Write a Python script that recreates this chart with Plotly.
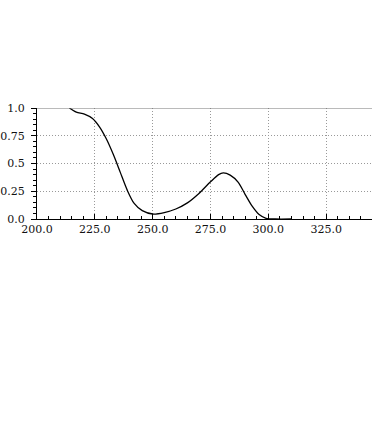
import plotly.graph_objects as go

wavelength = [214.0, 217.0, 220.5, 224.0, 227.0, 230.0, 233.0, 236.0, 239.0, 242.0,
              245.5, 250.0, 255.0, 260.0, 265.0, 270.0, 275.0, 278.5, 280.5, 283.5,
              287.0, 290.0, 293.0, 296.0, 299.0, 303.0, 310.0]
absorbance = [1.0, 0.962, 0.945, 0.905, 0.83, 0.72, 0.58, 0.42, 0.26, 0.14,
              0.075, 0.045, 0.058, 0.09, 0.145, 0.23, 0.335, 0.40, 0.415, 0.395,
              0.33, 0.22, 0.115, 0.04, 0.006, 0.0, 0.0]

x_ticks = [200, 225, 250, 275, 300, 325]
y_ticks = [0, 0.25, 0.5, 0.75, 1.0]
y_labels = ["0.0", "0.25", "0.5", "0.75", "1.0"]

font = dict(family="DejaVu Serif", size=11, color="#111")

fig = go.Figure()
fig.add_trace(go.Scatter(x=wavelength, y=absorbance, mode="lines",
                         line=dict(color="black", width=1.3, shape="spline", smoothing=0.8),
                         hoverinfo="skip", showlegend=False, cliponaxis=True))

fig.add_shape(type="line", xref="paper", yref="y", x0=0, x1=1, y0=1.0, y1=1.0,
              line=dict(color="#777", width=1.2))

fig.update_layout(
    width=372, height=438,
    margin=dict(l=35, r=0, t=108, b=219),
    paper_bgcolor="white", plot_bgcolor="white",
    font=font,
    xaxis=dict(range=[200, 344.8], tickvals=x_ticks, tickformat=".1f",
               showgrid=True, gridcolor="#999", griddash="1px,2px", gridwidth=1,
               showline=True, linecolor="black", linewidth=1,
               ticks="inside", ticklen=5, tickcolor="black", tickfont=font,
               minor=dict(dtick=5, tick0=200, ticks="inside", ticklen=3, tickcolor="black", showgrid=False),
               zeroline=False, fixedrange=True),
    yaxis=dict(range=[0, 1.0], tickvals=y_ticks, ticktext=y_labels,
               showgrid=True, gridcolor="#999", griddash="1px,2px", gridwidth=1,
               showline=True, linecolor="black", linewidth=1,
               ticks="outside", ticklen=5, tickcolor="black", tickfont=font,
               ticklabelstandoff=4,
               minor=dict(dtick=0.05, tick0=0, ticks="outside", ticklen=3, tickcolor="black", showgrid=False),
               zeroline=False, fixedrange=True),
)

fig.write_html("out.html")
